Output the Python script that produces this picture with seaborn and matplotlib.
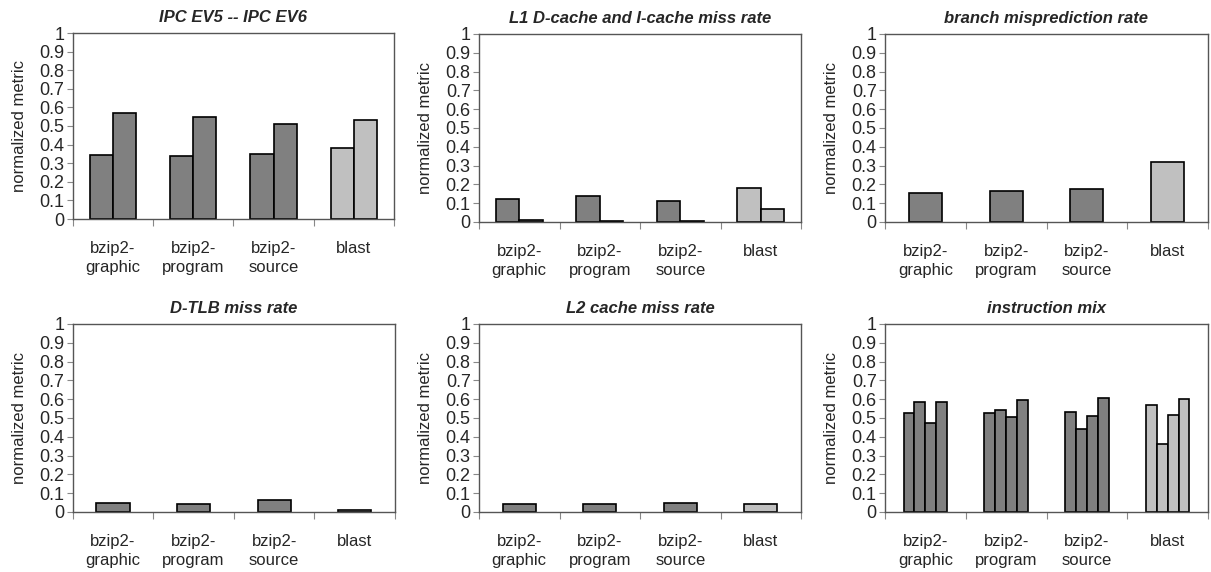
import matplotlib
matplotlib.use("Agg")
import matplotlib.pyplot as plt
import seaborn as sns
import pandas as pd
import numpy as np

sns.set_theme(style="white")
plt.rcParams['font.family'] = ['Liberation Sans', 'DejaVu Sans']

categories = ["bzip2-\ngraphic", "bzip2-\nprogram", "bzip2-\nsource", "blast"]

titles = ["IPC EV5 -- IPC EV6", "L1 D-cache and I-cache miss rate",
          "branch misprediction rate", "D-TLB miss rate",
          "L2 cache miss rate", "instruction mix"]

ipc_ev5 = [0.345, 0.34, 0.352, 0.381]
ipc_ev6 = [0.571, 0.551, 0.51, 0.53]
l1_dcache = [0.124, 0.139, 0.11, 0.179]
l1_icache = [0.008, 0.007, 0.006, 0.069]
branch_mispred = [0.155, 0.165, 0.174, 0.32]
dtlb_miss = [0.05, 0.043, 0.062, 0.009]
l2_miss = [0.043, 0.043, 0.05, 0.043]
mix_1 = [0.526, 0.526, 0.531, 0.567]
mix_2 = [0.586, 0.545, 0.442, 0.364]
mix_3 = [0.476, 0.504, 0.512, 0.517]
mix_4 = [0.586, 0.595, 0.607, 0.60]

panels = [
    [ipc_ev5, ipc_ev6],
    [l1_dcache, l1_icache],
    [branch_mispred],
    [dtlb_miss],
    [l2_miss],
    [mix_1, mix_2, mix_3, mix_4],
]
widths = [0.58, 0.58, 0.41, 0.41, 0.41, 0.54]

DARK = "#808080"
LIGHT = "#c0c0c0"

fig = plt.figure(figsize=(12.11, 5.72), dpi=100)
W, H = 1211, 572
boxes = [
    (72.7, 33, 394, 219), (479, 34, 801, 222), (885, 34, 1208, 222),
    (72.7, 324, 395, 512), (479, 324, 801, 512), (885, 324, 1208, 512),
]

for i, (series, title, w, box) in enumerate(zip(panels, titles, widths, boxes)):
    x0, y0, x1, y1 = box
    ax = fig.add_axes([x0 / W, 1 - y1 / H, (x1 - x0) / W, (y1 - y0) / H])
    rows = []
    for s, vals in enumerate(series):
        for c, v in zip(categories, vals):
            rows.append({"category": c, "series": f"s{s}", "value": v})
    df = pd.DataFrame(rows)
    if len(series) > 1:
        sns.barplot(data=df, x="category", y="value", hue="series",
                    palette=[DARK] * len(series), width=w, gap=0,
                    edgecolor="black", linewidth=1.2, legend=False, ax=ax,
                    order=categories)
    else:
        sns.barplot(data=df, x="category", y="value", color=DARK,
                    width=w, edgecolor="black", linewidth=1.2, ax=ax,
                    order=categories, saturation=1)
    for p in ax.patches:
        cx = p.get_x() + p.get_width() / 2
        if int(round(cx)) == 3:
            p.set_facecolor(LIGHT)
        else:
            p.set_facecolor(DARK)
    ax.set_xlim(-0.5, 3.5)
    ax.set_ylim(0, 1)
    ax.set_yticks(np.arange(0, 1.01, 0.1))
    ax.set_yticklabels(["0"] + [f"{v:.1f}" for v in np.arange(0.1, 0.95, 0.1)] + ["1"])
    ax.set_xticks(range(4))
    ax.set_xticklabels(categories, fontsize=12, linespacing=1.3)
    ax.set_xticks([-0.5, 0.5, 1.5, 2.5, 3.5], minor=True)
    ax.tick_params(axis="x", which="major", length=0, pad=16)
    ax.tick_params(axis="x", which="minor", length=5, width=0.8, color="#888888", direction="out", bottom=True)
    ax.tick_params(axis="y", length=4, width=0.8, color="#888888", direction="out", left=True, labelsize=13, pad=2)
    for sp in ax.spines.values():
        sp.set_visible(True)
        sp.set_color("#555555")
        sp.set_linewidth(1.0)
    ax.set_xlabel("")
    ax.set_ylabel("normalized metric", fontsize=12, labelpad=9)
    ax.set_title(title, fontsize=12, fontweight="bold", fontstyle="italic", pad=8)

fig.savefig("out.png", dpi=100)
